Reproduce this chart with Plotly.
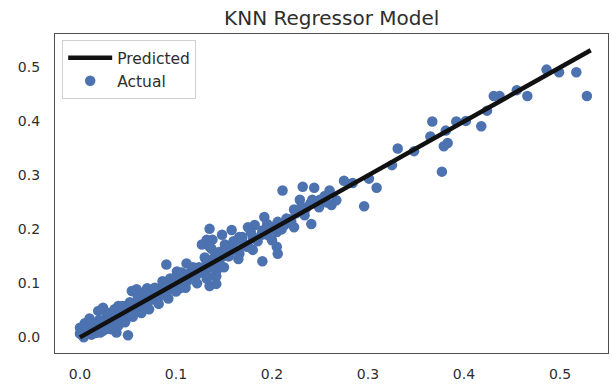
import plotly.graph_objects as go

# Actual target values plotted against the model's predictions
pred_x = [
    0.528, 0.517, 0.499, 0.486, 0.466, 0.455, 0.437, 0.431, 0.424, 0.418,
    0.402, 0.392, 0.381, 0.383, 0.379, 0.377, 0.367, 0.365, 0.348, 0.331,
    0.325, 0.309, 0.301, 0.284, 0.275, 0.260, 0.244, 0.232, 0.296, 0.267,
    0.262, 0.257, 0.242, 0.229, 0.249, 0.234, 0.223, 0.211, 0.236, 0.241,
    0.234, 0.218, 0.213, 0.223, 0.206, 0.192, 0.205, 0.189, 0.182, 0.175,
    0.169, 0.158, 0.135, 0.132, 0.138, 0.151, 0.127, 0.135, 0.137, 0.148,
    0.166, 0.159, 0.174, 0.205, 0.206, 0.190, 0.166, 0.149, 0.142, 0.132,
    0.111, 0.090, 0.101, 0.117, 0.142, 0.132, 0.094, 0.086, 0.107, 0.122,
    0.132, 0.142, 0.059, 0.070, 0.080, 0.090, 0.104, 0.135, 0.142, 0.054,
    0.070, 0.024, 0.019, 0.005, 0.000, 0.000, 0.008, 0.014, 0.021, 0.029,
    0.038, 0.050, 0.034, 0.044, 0.052, 0.059, 0.047, 0.065, 0.071, 0.040,
    0.028, 0.010, 0.014,
    0.003, 0.006, 0.012, 0.015, 0.018, 0.022, 0.025, 0.028, 0.032, 0.035,
    0.038, 0.042, 0.045, 0.048, 0.050, 0.055, 0.058, 0.060, 0.063, 0.066,
    0.070, 0.073, 0.076, 0.080, 0.083, 0.086, 0.090, 0.094, 0.098, 0.100,
    0.104, 0.108, 0.112, 0.115, 0.120, 0.124, 0.128, 0.132, 0.136, 0.140,
    0.145, 0.150, 0.155, 0.160, 0.165, 0.170, 0.175, 0.180, 0.185, 0.190,
    0.195, 0.200, 0.210, 0.215, 0.220, 0.225, 0.230, 0.240, 0.250, 0.255,
    0.002, 0.004, 0.008, 0.012, 0.016, 0.020, 0.024, 0.030, 0.033, 0.036,
    0.040, 0.044, 0.047, 0.052, 0.055, 0.060, 0.064, 0.068, 0.072, 0.078,
    0.082, 0.088, 0.092, 0.096, 0.100, 0.106, 0.110, 0.118, 0.122, 0.130,
    0.134, 0.145, 0.150, 0.160, 0.165, 0.178, 0.180, 0.195, 0.200,
]
actual_y = [
    0.447, 0.491, 0.491, 0.496, 0.447, 0.458, 0.447, 0.447, 0.420, 0.391,
    0.401, 0.400, 0.383, 0.360, 0.354, 0.307, 0.400, 0.372, 0.345, 0.350,
    0.319, 0.277, 0.294, 0.286, 0.290, 0.272, 0.277, 0.279, 0.243, 0.254,
    0.245, 0.250, 0.255, 0.255, 0.241, 0.235, 0.237, 0.272, 0.241, 0.210,
    0.226, 0.219, 0.208, 0.204, 0.214, 0.223, 0.195, 0.190, 0.208, 0.204,
    0.186, 0.199, 0.201, 0.181, 0.181, 0.172, 0.172, 0.168, 0.164, 0.190,
    0.186, 0.162, 0.168, 0.168, 0.155, 0.141, 0.155, 0.150, 0.137, 0.144,
    0.137, 0.135, 0.122, 0.122, 0.122, 0.128, 0.109, 0.104, 0.109, 0.117,
    0.109, 0.113, 0.089, 0.091, 0.089, 0.086, 0.091, 0.095, 0.099, 0.086,
    0.080, 0.055, 0.049, 0.026, 0.018, 0.007, 0.007, 0.016, 0.009, 0.016,
    0.009, 0.004, 0.031, 0.040, 0.049, 0.058, 0.058, 0.068, 0.073, 0.058,
    0.040, 0.035, 0.026,
    0.003, 0.010, 0.005, 0.020, 0.012, 0.025, 0.018, 0.030, 0.022, 0.040,
    0.030, 0.048, 0.035, 0.050, 0.042, 0.060, 0.050, 0.068, 0.058, 0.075,
    0.065, 0.080, 0.070, 0.085, 0.076, 0.090, 0.082, 0.098, 0.090, 0.105,
    0.100, 0.115, 0.105, 0.120, 0.112, 0.130, 0.120, 0.140, 0.130, 0.148,
    0.140, 0.158, 0.150, 0.168, 0.160, 0.175, 0.170, 0.185, 0.178, 0.198,
    0.190, 0.205, 0.200, 0.220, 0.215, 0.230, 0.240, 0.248, 0.255, 0.262,
    0.012, 0.000, 0.020, 0.028, 0.008, 0.032, 0.012, 0.045, 0.015, 0.052,
    0.022, 0.058, 0.028, 0.065, 0.038, 0.078, 0.045, 0.085, 0.052, 0.092,
    0.062, 0.100, 0.072, 0.108, 0.085, 0.120, 0.092, 0.130, 0.100, 0.148,
    0.112, 0.158, 0.130, 0.178, 0.145, 0.195, 0.162, 0.210, 0.180,
]

# Prediction line (predicted vs predicted)
line_x = [0.0, 0.532]
line_y = [0.0, 0.532]

tick_vals = [0.0, 0.1, 0.2, 0.3, 0.4, 0.5]
tick_text = ["0.0", "0.1", "0.2", "0.3", "0.4", "0.5"]

FONT = "DejaVu Sans"
TEXT = "#2e2e2e"

fig = go.Figure()
fig.add_trace(go.Scatter(
    x=pred_x, y=actual_y, mode="markers", name="Actual",
    marker=dict(color="#4C72B0", size=10.5, line=dict(width=0)),
    legendrank=2,
))
fig.add_trace(go.Scatter(
    x=line_x, y=line_y, mode="lines", name="Predicted",
    line=dict(color="#111111", width=4.5),
    legendrank=1,
))

axis_common = dict(
    showgrid=False, zeroline=False, ticks="",
    showline=True, mirror=True, linecolor="#4d4d4d", linewidth=1.3,
    tickvals=tick_vals, ticktext=tick_text,
    tickfont=dict(family=FONT, size=14, color=TEXT),
)

fig.update_layout(
    width=612, height=385,
    margin=dict(l=55, r=3, t=34, b=27),
    paper_bgcolor="white", plot_bgcolor="white",
    title=dict(
        text="KNN Regressor Model", x=0.542, xanchor="center",
        y=1 - 18 / 385, yanchor="middle", yref="container",
        font=dict(family=FONT, size=20, color=TEXT),
    ),
    xaxis=dict(range=[-0.026, 0.55], ticklabelstandoff=8, **axis_common),
    yaxis=dict(range=[-0.029, 0.562], ticklabelstandoff=11, **axis_common),
    legend=dict(
        x=0.013, y=0.981, xanchor="left", yanchor="top",
        bgcolor="white", bordercolor="#d0d0d0", borderwidth=1,
        font=dict(family=FONT, size=15.5, color=TEXT),
        itemwidth=44, tracegroupgap=1,
    ),
    showlegend=True,
)

fig.write_html("out.html")
